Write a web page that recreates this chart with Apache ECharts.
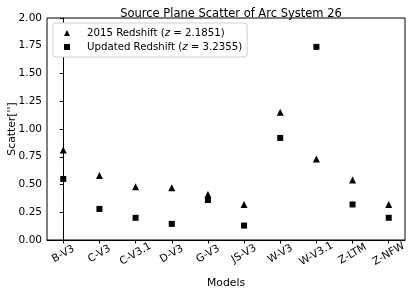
<!DOCTYPE html>
<html>
<head>
<meta charset="utf-8">
<script src="https://cdn.jsdelivr.net/npm/echarts@6/dist/echarts.min.js"></script>
<style>html,body{margin:0;padding:0;background:#fff;}#c{width:415px;height:291px;}</style>
</head>
<body>
<div id="c"></div>
<script>
const categories = ['B-V3','C-V3','C-V3.1','D-V3','G-V3','JS-V3','W-V3','W-V3.1','Z-LTM','Z-NFW'];
const scatter2015 = [0.81, 0.58, 0.48, 0.47, 0.41, 0.32, 1.15, 0.73, 0.54, 0.32];
const scatterUpdated = [0.55, 0.28, 0.20, 0.145, 0.36, 0.13, 0.92, 1.74, 0.32, 0.20];
const yTicks = [0, 0.25, 0.5, 0.75, 1.0, 1.25, 1.5, 1.75, 2.0];

const FONT = 'DejaVu Sans';
const TICK = 10.5;
const idx = categories.map((c, i) => i);
const chart = echarts.init(document.getElementById('c'), null, {renderer: 'canvas'});
chart.setOption({
  animation: false,
  backgroundColor: '#fff',
  textStyle: {fontFamily: FONT, color: '#000'},
  title: {
    text: 'Source Plane Scatter of Arc System 26',
    left: 226, top: 3, textAlign: 'center',
    textStyle: {fontFamily: FONT, fontSize: 11.5, fontWeight: 'normal', color: '#000'}
  },
  grid: {left: 47, top: 18, right: 10, bottom: 51, show: true, borderColor: '#000', borderWidth: 1,
         containLabel: false, outerBoundsMode: 'none'},
  legend: {
    orient: 'vertical', left: 53, top: 23,
    padding: [3, 5, 3, 11],
    itemGap: 0, itemWidth: 6, itemHeight: 6,
    borderColor: '#d0d0d0', borderWidth: 1, borderRadius: 3, backgroundColor: '#fff',
    data: [{name: 's2015', icon: 'triangle'}, {name: 'sUpd', icon: 'rect'}],
    formatter: function (n) {
      return n === 's2015'
        ? '{s|}{a|2015 Redshift (}{i|z}{a| = 2.1851)}'
        : '{s|}{a|Updated Redshift (}{i|z}{a| = 3.2355)}';
    },
    textStyle: {
      fontFamily: FONT, fontSize: 10.2, color: '#000', lineHeight: 14,
      rich: {
        s: {width: 12},
        a: {fontFamily: FONT, fontSize: 10.2, color: '#000', lineHeight: 14},
        i: {fontFamily: FONT, fontSize: 10.2, fontStyle: 'italic', color: '#000', lineHeight: 14}
      }
    }
  },
  xAxis: {
    type: 'value', min: -0.45, max: 9.45,
    name: 'Models', nameLocation: 'middle', nameGap: 38, nameMoveOverlap: false,
    nameTextStyle: {fontFamily: FONT, fontSize: 10.8, color: '#000'},
    axisLine: {show: true, lineStyle: {color: '#000', width: 1}},
    axisTick: {show: true, length: 3.5, lineStyle: {color: '#000'}, customValues: idx},
    axisLabel: {
      customValues: idx, rotate: 30, margin: 14, align: 'center', verticalAlign: 'middle',
      fontFamily: FONT, fontSize: TICK, color: '#000',
      formatter: function (v) { return categories[Math.round(v)]; }
    },
    splitLine: {show: false}
  },
  yAxis: {
    type: 'value', min: 0, max: 2, interval: 0.25,
    name: "Scatter['']", nameLocation: 'middle', nameGap: 29, nameRotate: 90, nameMoveOverlap: false,
    nameTextStyle: {fontFamily: FONT, fontSize: 10.8, color: '#000'},
    axisLine: {show: true, lineStyle: {color: '#000', width: 1}},
    axisTick: {show: true, length: 3.5, lineStyle: {color: '#000'}},
    axisLabel: {
      margin: 5, fontFamily: FONT, fontSize: TICK, color: '#000',
      formatter: function (v) { return v.toFixed(2); }
    },
    splitLine: {show: false}
  },
  series: [
    {
      name: 's2015', type: 'scatter', symbol: 'triangle', symbolSize: 7,
      itemStyle: {color: '#000', opacity: 1},
      data: scatter2015.map((v, i) => [i, v])
    },
    {
      name: 'sUpd', type: 'scatter', symbol: 'rect', symbolSize: 6,
      itemStyle: {color: '#000', opacity: 1},
      data: scatterUpdated.map((v, i) => [i, v])
    }
  ]
});
</script>
</body>
</html>
